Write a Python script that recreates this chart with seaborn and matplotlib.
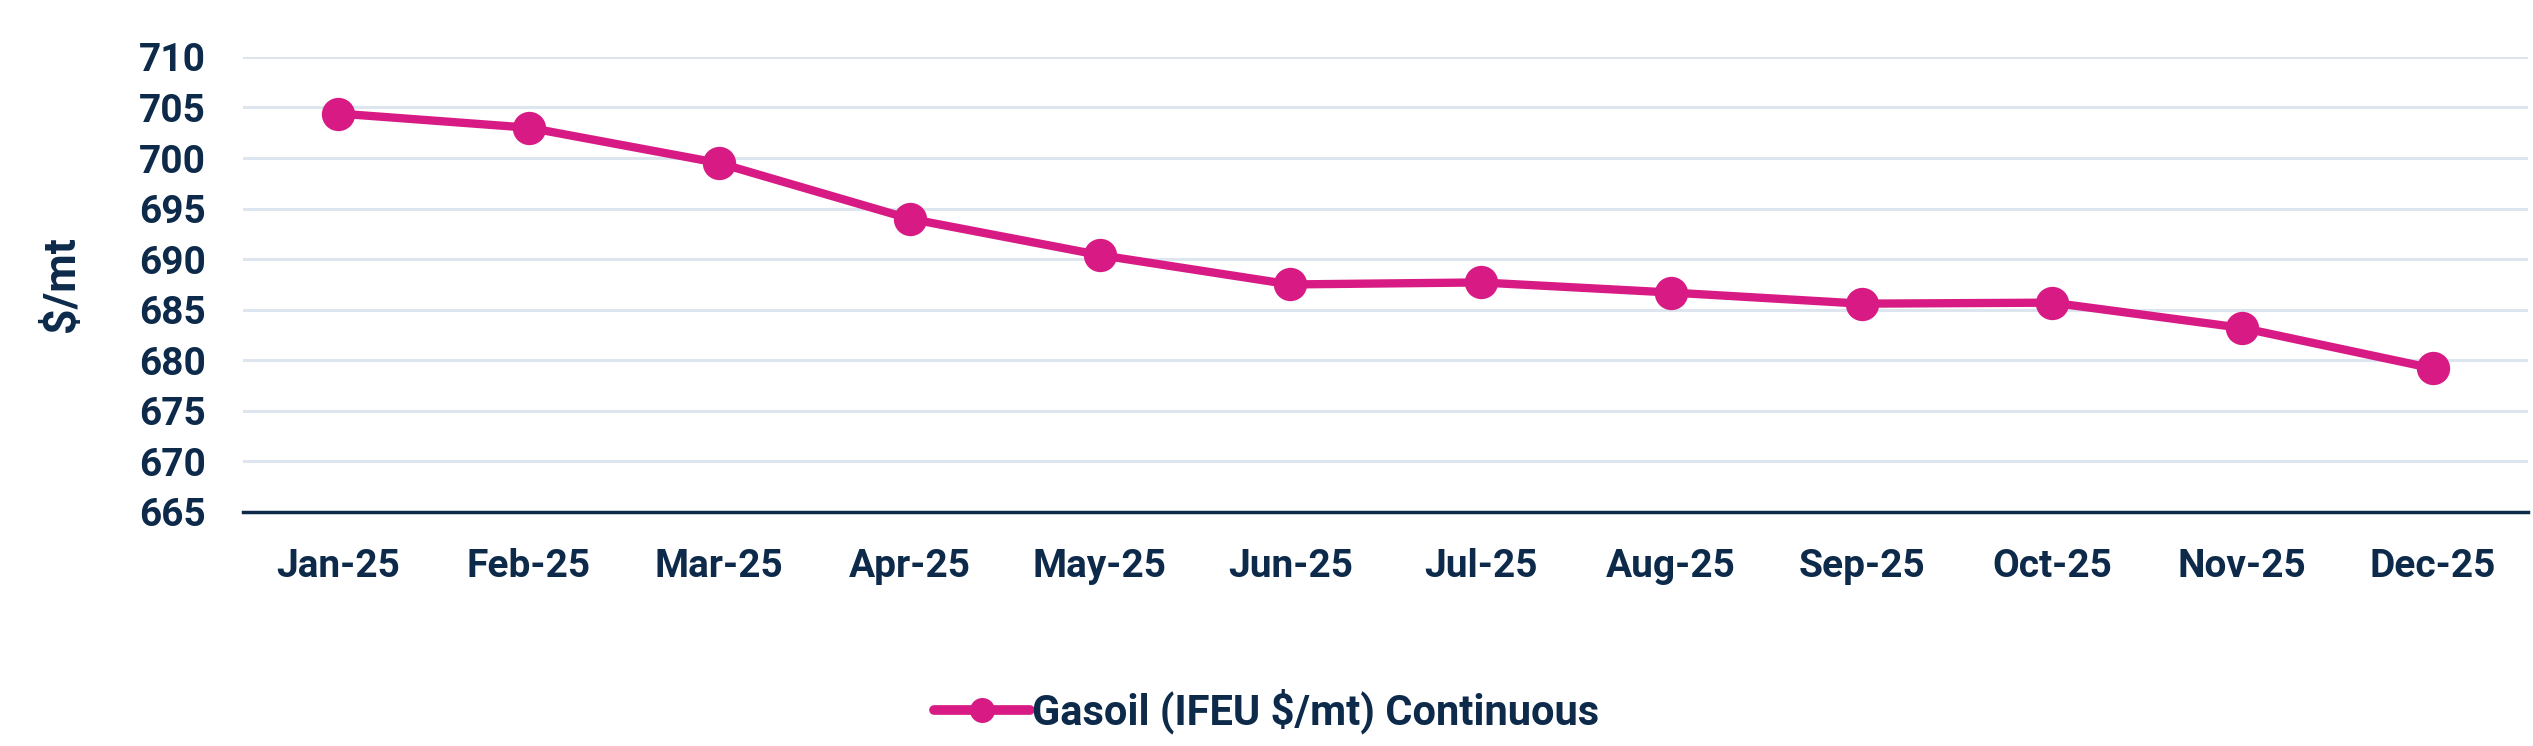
import matplotlib
matplotlib.use("Agg")
import matplotlib.pyplot as plt
import seaborn as sns
import pandas as pd

months = ["Jan-25", "Feb-25", "Mar-25", "Apr-25", "May-25", "Jun-25",
          "Jul-25", "Aug-25", "Sep-25", "Oct-25", "Nov-25", "Dec-25"]
gasoil = [704.4, 703.0, 699.5, 694.0, 690.4, 687.5,
          687.7, 686.7, 685.6, 685.7, 683.2, 679.2]
series_name = "Gasoil (IFEU $/mt) Continuous"
y_ticks = [665, 670, 675, 680, 685, 690, 695, 700, 705, 710]

NAVY = "#0d2a4a"
PINK = "#d81b84"
GRID = "#dde5ee"

sns.set_style("white")
plt.rcParams["font.family"] = ["Roboto", "DejaVu Sans"]

df = pd.DataFrame({"month": months, "value": gasoil, "series": series_name})

fig = plt.figure(figsize=(25.33, 7.46), dpi=100)
ax = fig.add_axes([0.096, 0.3137, 0.902, 0.61])

sns.lineplot(data=df, x="month", y="value", hue="series", palette=[PINK],
             marker="o", markersize=24, linewidth=6, markeredgewidth=0,
             sort=False, ax=ax, legend=True)

ax.set_xlim(-0.5, len(months) - 0.5)
ax.set_ylim(665, 710)
ax.set_yticks(y_ticks)
ax.set_yticklabels([str(v) for v in y_ticks])
ax.yaxis.grid(True, color=GRID, linewidth=2.2)
ax.xaxis.grid(False)
ax.set_axisbelow(True)
for s in ["top", "right", "left"]:
    ax.spines[s].set_visible(False)
ax.spines["bottom"].set_color(NAVY)
ax.spines["bottom"].set_linewidth(2.5)
ax.tick_params(axis="both", length=0, colors=NAVY)
ax.tick_params(axis="x", pad=26, labelsize=28)
ax.tick_params(axis="y", pad=27, labelsize=28)
for lab in ax.get_xticklabels() + ax.get_yticklabels():
    lab.set_fontweight("bold")
    lab.set_color(NAVY)

ax.set_xlabel("")
ax.set_ylabel("$/mt", fontsize=32, fontweight="bold", color=NAVY, labelpad=40)

handles, labels = ax.get_legend_handles_labels()
ax.get_legend().remove()
for h in handles:
    h.set_markersize(18)
    h.set_linewidth(7)
leg = fig.legend(handles, labels, loc="center", bbox_to_anchor=(0.5, 0.047),
                 frameon=False, handlelength=2.3, handletextpad=0.05,
                 prop={"weight": "bold", "size": 30})
for t in leg.get_texts():
    t.set_color(NAVY)

fig.savefig("out.png", dpi=100)
